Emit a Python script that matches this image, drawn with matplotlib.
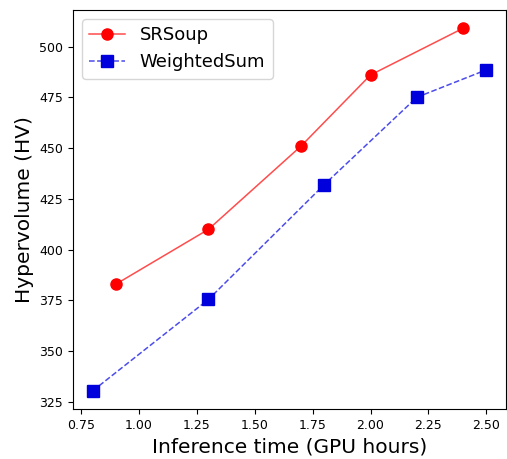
import matplotlib
matplotlib.use("Agg")
import matplotlib.pyplot as plt

srsoup_x = [0.9, 1.3, 1.7, 2.0, 2.4]
srsoup_hv = [383, 410, 451, 486, 509]
wsum_x = [0.8, 1.3, 1.8, 2.2, 2.5]
wsum_hv = [330.5, 375.5, 432, 475, 488.5]

fig = plt.figure(figsize=(5.07, 4.59), dpi=100)
ax = fig.add_axes([0.144, 0.109, 0.854, 0.869])
ax.plot(srsoup_x, srsoup_hv, color=(1, 0, 0, 0.7), marker="o", markersize=8,
        markerfacecolor="red", markeredgecolor="red",
        linewidth=1.1, label="SRSoup")
ax.plot(wsum_x, wsum_hv, color=(0, 0, 0.9, 0.7), marker="s", markersize=8,
        markerfacecolor="#0000dd", markeredgecolor="#0000dd",
        linewidth=1.1, linestyle="--", label="WeightedSum")
ax.set_xlabel("Inference time (GPU hours)", fontsize=14.5)
ax.set_ylabel("Hypervolume (HV)", fontsize=14.5)
ax.tick_params(labelsize=9)
ax.set_xticks([0.75, 1.0, 1.25, 1.5, 1.75, 2.0, 2.25, 2.5])
ax.legend(loc="upper left", fontsize=13)
fig.savefig("out.png", dpi=100)
